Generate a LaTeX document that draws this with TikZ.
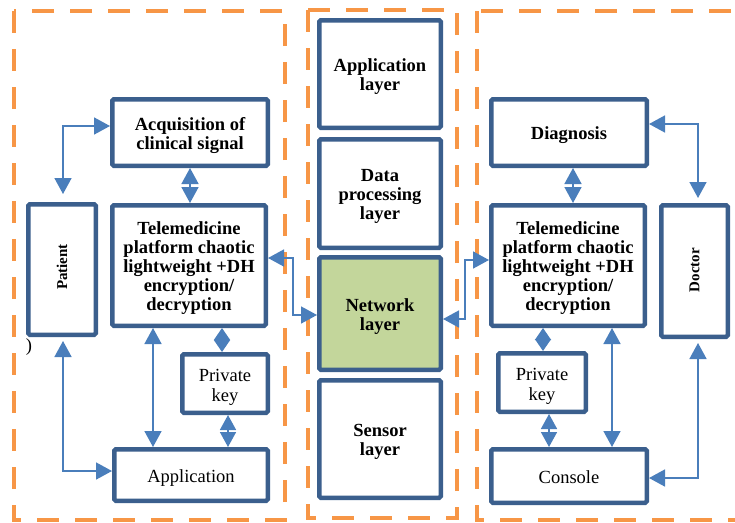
\documentclass[tikz,border=0pt]{standalone}
\usepackage{fontspec}
\setmainfont{Liberation Serif}
\usetikzlibrary{arrows.meta,calc}

\definecolor{boxblue}{HTML}{3B5F8D}
\definecolor{arrblue}{HTML}{4A7EBB}
\definecolor{dashorange}{HTML}{F79646}
\definecolor{netgreen}{HTML}{C3D69B}

% centred lines of box text, set a little below the box middle
\newcommand\boxlines[1]{\raisebox{-3.5pt}[\height][\depth]{\begin{tabular}{@{}c@{}}#1\end{tabular}}}

\tikzset{
  zone/.style={draw=dashorange, line width=4.8pt, dash pattern=on 22pt off 16pt},
  blockbox/.style={draw=boxblue, line width=4.5pt, fill=white, rounded corners=1.5pt,
    align=center, inner sep=0pt, font=\fontsize{18.5}{19}\selectfont\bfseries},
  plainbox/.style={blockbox, font=\fontsize{18.5}{20}\selectfont},
  sidebox/.style={blockbox},
  link/.style={draw=arrblue, line width=1.6pt,
    {Triangle[length=16pt,width=17pt]}-{Triangle[length=16pt,width=17pt]}},
  shortlink/.style={draw=arrblue, line width=1.6pt,
    {Triangle[length=12pt,width=16pt]}-{Triangle[length=12pt,width=16pt]}},
  linkhalf/.style={draw=arrblue, line width=1.6pt,
    {Triangle[length=15pt,width=16pt]}-{Triangle[length=15pt,width=16pt]}},
}

\begin{document}
\begin{tikzpicture}[x=1pt, y=-1pt]
\useasboundingbox (0,0) rectangle (735,522);

% dashed zones
\draw[zone] (14,11) rectangle (285,520);
\draw[zone] (308,10) rectangle (457,518);
\draw[zone] (477,11) rectangle (760,520);

% left side
\node[blockbox, minimum width=155.5pt, minimum height=66.5pt] (acq) at (190,132.5)
  {\boxlines{Acquisition of\\clinical signal}};
\node[blockbox, minimum width=153.5pt, minimum height=120.5pt] (tl) at (189,265.5)
  {\boxlines{Telemedicine\\platform chaotic\\lightweight +DH\\encryption/\\decryption}};
\node[sidebox, minimum width=67.5pt, minimum height=130.5pt] (patient) at (62,269.5) {};
\node[rotate=90, font=\fontsize{15}{16}\selectfont\bfseries] (patientlbl) at (62,267) {Patient};
\node[plainbox, minimum width=85.5pt, minimum height=58.5pt] (pkl) at (225,383.5)
  {\boxlines{Private\\key}};
\node[plainbox, minimum width=153.5pt, minimum height=51.5pt] (app) at (191,475)
  {\boxlines{Application}};
\node[font=\fontsize{18.5}{19}\selectfont] (paren) at (29,347) {)};

% middle layers
\node[blockbox, minimum width=121.5pt, minimum height=107.5pt] (al) at (380,74)
  {\boxlines{Application\\layer}};
\node[blockbox, minimum width=121.5pt, minimum height=108.5pt] (dp) at (380,193.5)
  {\boxlines{Data\\processing\\layer}};
\node[blockbox, fill=netgreen, minimum width=121.5pt, minimum height=112.5pt] (nw) at (380,313.5)
  {\boxlines{Network\\layer}};
\node[blockbox, minimum width=121.5pt, minimum height=117.5pt] (sl) at (380,439)
  {\boxlines{Sensor\\layer}};

% right side
\node[blockbox, minimum width=155.5pt, minimum height=66.5pt] (diag) at (569,132.5)
  {\boxlines{Diagnosis}};
\node[blockbox, minimum width=153.5pt, minimum height=120.5pt] (tr) at (568,265.5)
  {\boxlines{Telemedicine\\platform chaotic\\lightweight +DH\\encryption/\\decryption}};
\node[sidebox, minimum width=66.5pt, minimum height=131.5pt] (doctor) at (694.5,271) {};
\node[rotate=90, font=\fontsize{15}{16}\selectfont\bfseries] (doctorlbl) at (694.5,270) {Doctor};
\node[plainbox, minimum width=87.5pt, minimum height=58.5pt] (pkr) at (542,382.5)
  {\boxlines{Private\\key}};
\node[plainbox, minimum width=155.5pt, minimum height=53.5pt] (console) at (569,476)
  {\boxlines{Console}};

% left connectors
\draw[link, shorten <=8pt] (patient.north -| 63,0) |- (acq.west |- 0,126);
\draw[link, shorten <=4pt] (patient.south -| 63,0) |- (app.west |- 0,471);
\draw[link] (acq.south -| 190,0) -- (tl.north -| 190,0);
\draw[link] (tl.south -| 153,0) -- (app.north -| 153,0);
\draw[shortlink] (tl.south -| 222,0) -- (pkl.north -| 222,0);
\draw[linkhalf] (pkl.south -| 228,0) -- (app.north -| 228,0);
\draw[link] (tl.east |- 0,258) -| (293,315) -- (nw.west |- 0,315);

% right connectors
\draw[link] (nw.east |- 0,319) -| (465,260) -- (tr.west |- 0,260);
\draw[link] (diag.south -| 573,0) -- (tr.north -| 573,0);
\draw[link, shorten >=5pt] (diag.east |- 0,124) -| (doctor.north -| 698,0);
\draw[link, shorten <=4pt] (doctor.south -| 698,0) |- (console.east |- 0,478);
\draw[shortlink] (tr.south -| 543,0) -- (pkr.north -| 543,0);
\draw[linkhalf] (pkr.south -| 549,0) -- (console.north -| 549,0);
\draw[link] (tr.south -| 612,0) -- (console.north -| 612,0);
\end{tikzpicture}
\end{document}
